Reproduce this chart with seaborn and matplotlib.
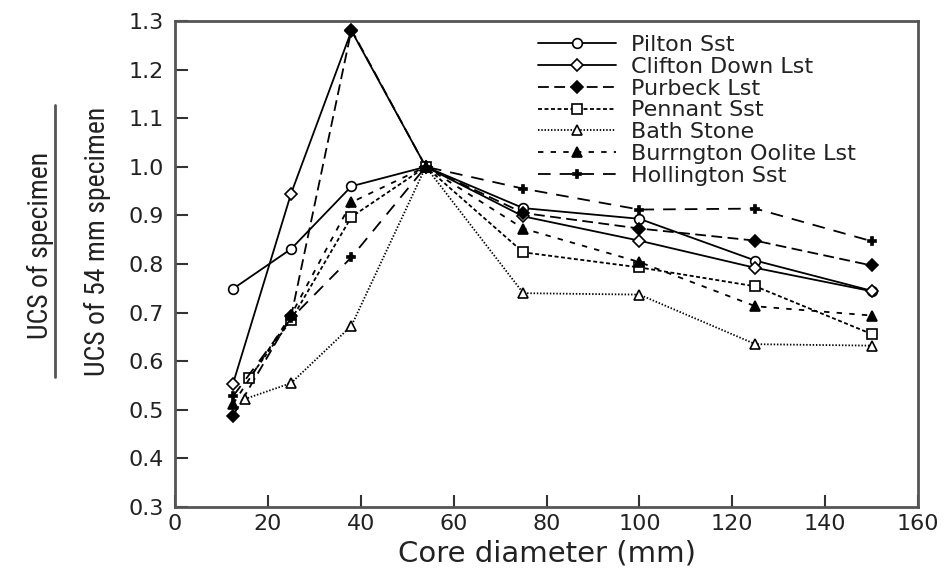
import matplotlib
matplotlib.use("Agg")
import matplotlib.pyplot as plt
from matplotlib.lines import Line2D
from matplotlib import font_manager
import seaborn as sns
import pandas as pd

# ---- data ----
names = ["Pilton Sst", "Clifton Down Lst", "Purbeck Lst", "Pennant Sst",
         "Bath Stone", "Burrngton Oolite Lst", "Hollington Sst"]

x_pilton = [12.5, 25, 38, 54, 75, 100, 125, 150]
y_pilton = [0.749, 0.831, 0.960, 1.0, 0.915, 0.893, 0.807, 0.745]

x_clifton = [12.5, 25, 38, 54, 75, 100, 125, 150]
y_clifton = [0.554, 0.945, 1.280, 1.0, 0.898, 0.848, 0.792, 0.744]

x_purbeck = [12.5, 25, 38, 54, 75, 100, 125, 150]
y_purbeck = [0.488, 0.692, 1.282, 1.0, 0.905, 0.873, 0.848, 0.797]

x_pennant = [16, 25, 38, 54, 75, 100, 125, 150]
y_pennant = [0.565, 0.685, 0.897, 1.0, 0.824, 0.793, 0.754, 0.656]

x_bath = [15, 25, 38, 54, 75, 100, 125, 150]
y_bath = [0.522, 0.555, 0.673, 1.0, 0.740, 0.737, 0.635, 0.632]

x_burr = [12.5, 25, 38, 54, 75, 100, 125, 150]
y_burr = [0.512, 0.695, 0.927, 1.0, 0.873, 0.804, 0.713, 0.694]

x_holl = [12.5, 25, 38, 54, 75, 100, 125, 150]
y_holl = [0.528, 0.688, 0.814, 1.0, 0.955, 0.912, 0.914, 0.847]

x_ticks = [0, 20, 40, 60, 80, 100, 120, 140, 160]
y_ticks = [0.3, 0.4, 0.5, 0.6, 0.7, 0.8, 0.9, 1.0, 1.1, 1.2, 1.3]

xlabel = "Core diameter (mm)"
ylabel_top = "UCS of specimen"
ylabel_bottom = "UCS of 54 mm specimen"

# ---- styles ----
styles = {
    "Pilton Sst": dict(marker="o", mfc="white", ms=7, ls="-"),
    "Clifton Down Lst": dict(marker="D", mfc="white", ms=6, ls="-"),
    "Purbeck Lst": dict(marker="D", mfc="black", ms=6.5, ls=(0, (6, 3))),
    "Pennant Sst": dict(marker="s", mfc="white", ms=6.5, ls=(0, (2.2, 1.4))),
    "Bath Stone": dict(marker="^", mfc="white", ms=7, ls=(0, (0.8, 1.0))),
    "Burrngton Oolite Lst": dict(marker="^", mfc="black", ms=7, ls=(0, (3, 4))),
    "Hollington Sst": dict(marker="P", mfc="black", ms=6, ls=(0, (7, 5))),
}

series = {
    "Pilton Sst": (x_pilton, y_pilton),
    "Clifton Down Lst": (x_clifton, y_clifton),
    "Purbeck Lst": (x_purbeck, y_purbeck),
    "Pennant Sst": (x_pennant, y_pennant),
    "Bath Stone": (x_bath, y_bath),
    "Burrngton Oolite Lst": (x_burr, y_burr),
    "Hollington Sst": (x_holl, y_holl),
}

sns.set_style("ticks")
plt.rcParams["font.family"] = ["DejaVu Sans"]

# narrow font for the y label if one is installed
narrow_fp = None
for f in font_manager.fontManager.ttflist:
    if f.name in ("Liberation Sans Narrow", "Roboto Condensed", "Open Sans Condensed") \
            and f.weight in (400, "normal", "regular") and f.style == "normal":
        narrow_fp = font_manager.FontProperties(fname=f.fname, size=20)
        break
if narrow_fp is None:
    for f in font_manager.fontManager.ttflist:
        if f.name == "DejaVu Sans" and "condensed" in str(f.stretch) and \
                f.style == "normal" and f.weight in (400, "normal"):
            narrow_fp = font_manager.FontProperties(fname=f.fname, size=17)
            break
if narrow_fp is None:
    narrow_fp = font_manager.FontProperties(family="Liberation Sans", size=16)

fig = plt.figure(figsize=(9.46, 5.69), dpi=100)
ax = fig.add_axes([175 / 946, 1 - 507 / 569, (918 - 175) / 946, (507 - 21) / 569])

for name in names:
    xs, ys = series[name]
    df = pd.DataFrame({"x": xs, "y": ys})
    st = styles[name]
    sns.lineplot(data=df, x="x", y="y", ax=ax, color="black", linewidth=1.3,
                 linestyle=st["ls"], marker=st["marker"], markersize=st["ms"],
                 markerfacecolor=st["mfc"], markeredgecolor="black",
                 markeredgewidth=1.2, errorbar=None, sort=False, label=name)

ax.set_xlim(0, 160)
ax.set_ylim(0.3, 1.3)
ax.set_xticks(x_ticks)
ax.set_yticks(y_ticks)
ax.set_xticklabels([str(v) for v in x_ticks], fontsize=16)
ax.set_yticklabels([f"{v:.1f}" for v in y_ticks], fontsize=16)
ax.tick_params(axis="both", direction="in", length=9, width=1.5, color="#333333",
               top=False, right=False, labelcolor="#222222")
ax.tick_params(axis="y", pad=8)
ax.tick_params(axis="x", pad=5)
for s in ax.spines.values():
    s.set_color("#555555")
    s.set_linewidth(2)
    s.set_visible(True)
ax.set_xlabel(xlabel, fontsize=21, labelpad=4, color="#222222")
ax.set_ylabel("")

handles = ax.get_lines()
leg = ax.legend(handles=handles, labels=names, loc="upper left",
                bbox_to_anchor=(538 / 946, 1 - 35 / 569), bbox_transform=fig.transFigure,
                frameon=False, fontsize=16, handlelength=3.5, handletextpad=0.7,
                labelspacing=0.08, borderpad=0, borderaxespad=0)
for t in leg.get_texts():
    t.set_color("#222222")

# two-line fraction y label
fig.text(40 / 946, 1 - 245 / 569, ylabel_top, rotation=90, ha="center", va="center",
         color="#222222", fontproperties=narrow_fp)
fig.text(97 / 946, 1 - 241 / 569, ylabel_bottom, rotation=90, ha="center", va="center",
         color="#222222", fontproperties=narrow_fp)
fig.add_artist(Line2D([55 / 946, 55 / 946], [1 - 105 / 569, 1 - 377 / 569],
                      transform=fig.transFigure, color="#555555", linewidth=2))

fig.savefig("out.png", dpi=100)
